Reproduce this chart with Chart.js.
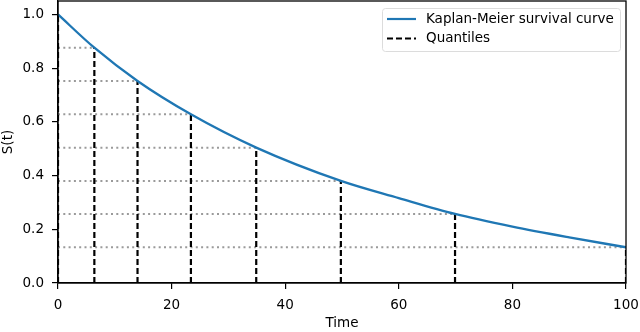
<!DOCTYPE html>
<html>
<head>
<meta charset="utf-8">
<script src="https://cdn.jsdelivr.net/npm/chart.js@4/dist/chart.umd.min.js"></script>
<style>
  body { margin: 0; background: #fff; }
  canvas { display: block; }
</style>
</head>
<body>
<canvas id="kmChart" width="640" height="332"></canvas>
<script>
// 生存曲线上读出的点
const curveTime = [0, 6.4, 14, 23.4, 34.9, 49.8, 60, 69.9, 80, 90, 100];
const curveSurv = [1.0, 0.876, 0.752, 0.628, 0.504, 0.380, 0.316, 0.257, 0.210, 0.170, 0.133];

// 分位点
const quantTime = [0, 6.4, 14, 23.4, 34.9, 49.8, 69.9, 100];
const quantSurv = [1.0, 0.876, 0.752, 0.628, 0.504, 0.380, 0.257, 0.133];

const xTicks = [0, 20, 40, 60, 80, 100];
const yTicks = [0.0, 0.2, 0.4, 0.6, 0.8, 1.0];

const FONT = 'DejaVu Sans';
const FSIZE = 13.5;

const curveData = curveTime.map((t, i) => ({ x: t, y: curveSurv[i] }));

// 竖虚线 (t,0)-(t,S)，用 null 断开
const vData = [];
quantTime.forEach((t, i) => {
    vData.push({ x: t, y: 0 }, { x: t, y: quantSurv[i] }, { x: t, y: null });
});
// 横点线 (0,S)-(t,S)
const hData = [];
quantTime.forEach((t, i) => {
    hData.push({ x: 0, y: quantSurv[i] }, { x: t, y: quantSurv[i] }, { x: t, y: null });
});

// 图框和图内图例
const framePlugin = {
    id: 'frame',
    afterDraw(chart) {
        const { ctx, chartArea: a } = chart;
        ctx.save();
        ctx.strokeStyle = '#000';
        ctx.lineWidth = 1.3;
        ctx.strokeRect(a.left, a.top, a.right - a.left, a.bottom - a.top);

        // legend box
        const bx = 382, by = 8, bw = 238, bh = 43;
        ctx.fillStyle = 'rgba(255,255,255,0.8)';
        ctx.strokeStyle = '#dcdcdc';
        ctx.lineWidth = 1;
        ctx.beginPath();
        ctx.roundRect(bx + 0.5, by + 0.5, bw, bh, 3);
        ctx.fill();
        ctx.stroke();

        ctx.font = FSIZE + 'px ' + FONT;
        ctx.textBaseline = 'middle';
        ctx.fillStyle = '#000';
        const items = [
            { label: 'Kaplan-Meier survival curve', color: '#1f77b4', dash: [] },
            { label: 'Quantiles', color: '#000', dash: [6, 3] }
        ];
        items.forEach((it, i) => {
            const y = by + 11 + i * 19.5;
            ctx.beginPath();
            ctx.setLineDash(it.dash);
            ctx.strokeStyle = it.color;
            ctx.lineWidth = 2.2;
            ctx.moveTo(bx + 5, y);
            ctx.lineTo(bx + 34, y);
            ctx.stroke();
            ctx.setLineDash([]);
            ctx.fillText(it.label, bx + 44, y);
        });
        ctx.restore();
    }
};

new Chart(document.getElementById('kmChart').getContext('2d'), {
    type: 'line',
    data: {
        datasets: [
            {
                label: 'levels',
                data: hData,
                borderColor: '#9a9a9a',
                borderWidth: 2,
                borderDash: [2, 3.3],
                pointRadius: 0,
                spanGaps: false,
                order: 3
            },
            {
                label: 'Quantiles',
                data: vData,
                borderColor: '#000',
                borderWidth: 2.2,
                borderDash: [6, 3],
                pointRadius: 0,
                spanGaps: false,
                order: 2
            },
            {
                label: 'Kaplan-Meier survival curve',
                data: curveData,
                borderColor: '#1f77b4',
                borderWidth: 2.3,
                pointRadius: 0,
                cubicInterpolationMode: 'monotone',
                order: 1
            }
        ]
    },
    options: {
        responsive: false,
        animation: false,
        layout: { padding: { left: 0, right: 14, top: 1, bottom: 0 } },
        plugins: {
            legend: { display: false },
            tooltip: { enabled: false }
        },
        scales: {
            x: {
                type: 'linear',
                min: 0,
                max: 100,
                afterFit: s => { s.height = 49; s.paddingLeft = 0; s.paddingRight = 0; },
                afterBuildTicks: s => { s.ticks = xTicks.map(v => ({ value: v })); },
                grid: { drawOnChartArea: false, drawTicks: true, tickLength: 6, color: '#000', lineWidth: 1.2 },
                border: { display: true, color: '#000', width: 1.3 },
                ticks: { color: '#000', font: { family: FONT, size: FSIZE }, padding: 8, maxRotation: 0 },
                title: { display: true, text: 'Time', color: '#000', font: { family: FONT, size: FSIZE }, padding: { top: 3, bottom: 0 } }
            },
            y: {
                type: 'linear',
                min: 0,
                max: 1.05,
                afterFit: s => { s.width = 58; s.paddingTop = 0; s.paddingBottom = 0; },
                afterBuildTicks: s => { s.ticks = yTicks.map(v => ({ value: v })); },
                grid: { drawOnChartArea: false, drawTicks: true, tickLength: 6, color: '#000', lineWidth: 1.2 },
                border: { display: true, color: '#000', width: 1.3 },
                ticks: {
                    color: '#000',
                    font: { family: FONT, size: FSIZE },
                    padding: 8,
                    callback: v => v.toFixed(1)
                },
                title: { display: true, text: 'S(t)', color: '#000', font: { family: FONT, size: FSIZE }, padding: { top: 0, bottom: 0 } }
            }
        }
    },
    plugins: [framePlugin]
});
</script>
</body>
</html>
